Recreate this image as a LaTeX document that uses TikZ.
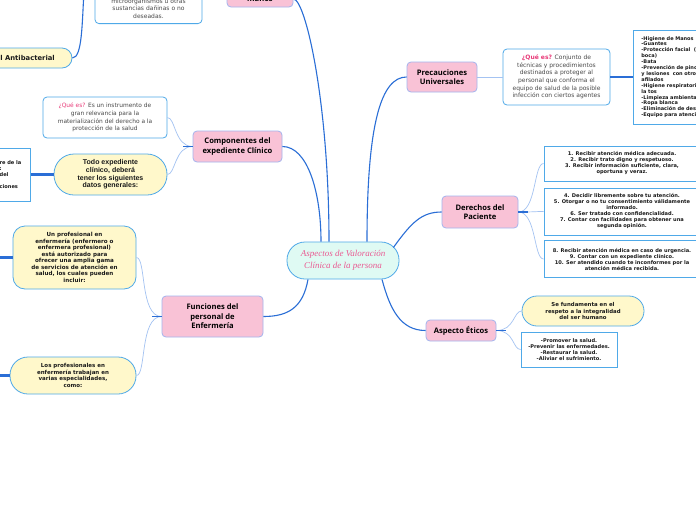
\documentclass[tikz,border=0pt]{standalone}
\usepackage{fontspec}
\setmainfont{DejaVu Sans}
\newfontfamily\brfont{Open Sans}
\newfontfamily\titfont{Liberation Serif}
\newfontfamily\arfont{Liberation Sans}
\usetikzlibrary{calc}
\definecolor{pinkfill}{HTML}{F9C2D6}
\definecolor{pinkline}{HTML}{A3B4EE}
\definecolor{yelfill}{HTML}{FFF8CB}
\definecolor{boxline}{HTML}{4FA9E8}
\definecolor{mintfill}{HTML}{DFFAF3}
\definecolor{mainblue}{HTML}{2A6ED6}
\definecolor{leafblue}{HTML}{A4C3F2}
\definecolor{qpink}{HTML}{E83A78}
\definecolor{titpink}{HTML}{EA5A92}
\definecolor{leafgray}{HTML}{4A4A4A}
\definecolor{darktext}{HTML}{1A1A1A}
\begin{document}
\begin{tikzpicture}[x=1pt,y=-1pt,
  branch/.style={draw=pinkline,fill=pinkfill,line width=0.8pt,rounded corners=4pt,inner sep=0pt,align=center,font=\brfont\bfseries\fontsize{7.6}{9.5}\selectfont,text=black},
  leafbox/.style={draw=boxline,fill=white,line width=0.8pt,rounded corners=4pt,inner sep=0pt,align=center,text=leafgray,font=\fontsize{6}{7.6}\selectfont},
  yellowbox/.style={draw=boxline,fill=yelfill,line width=0.8pt,inner sep=0pt,align=center,text=darktext,font=\bfseries\fontsize{5.6}{6.5}\selectfont},
  listbox/.style={draw=boxline,fill=white,line width=0.8pt,inner sep=0pt,align=center,text=darktext,font=\bfseries\fontsize{5.1}{6}\selectfont},
  mainlink/.style={draw=mainblue,line width=1.1pt},
  leaflink/.style={draw=leafblue,line width=0.7pt},
  thicklink/.style={draw=mainblue,line width=2.2pt}]
\fill[white] (0,0) rectangle (696,520);
\useasboundingbox (0,0) rectangle (696,520);

\node[draw=boxline,fill=mintfill,line width=0.8pt,rounded corners=18pt,minimum width=112pt,minimum height=37pt,inner sep=0pt,align=center,text=titpink,font=\titfont\itshape\fontsize{9}{12}\selectfont] (c) at (343,260.5) {Aspectos de Valoración\\Clínica de la persona};

\node[branch,minimum width=66pt,minimum height=16pt] (m) at (260,-1) {manos};
\node[branch,minimum width=70pt,minimum height=30pt] (pr) at (442,77) {Precauciones\\Universales};
\node[branch,minimum width=76pt,minimum height=32pt] (de) at (480,212) {Derechos del\\Paciente};
\node[branch,minimum width=70pt,minimum height=21pt] (et) at (461,330.5) {Aspecto Éticos};
\node[branch,minimum width=101pt,minimum height=41pt] (fu) at (212.5,316.5) {Funciones del\\personal de\\Enfermería};
\node[branch,minimum width=89pt,minimum height=31pt] (co) at (237.5,146.5) {Componentes del\\expediente Clínico};

\node[leafbox,anchor=south,minimum width=107pt,inner ysep=5pt] (tl) at (148.5,24) {microorganismos u otras\\sustancias dañinas o no\\deseadas.};
\node[yellowbox,rounded corners=10pt,minimum width=99pt,minimum height=20pt,font=\bfseries\fontsize{6.8}{8}\selectfont] (g) at (22.5,58) {Gel Antibacterial};
\coordinate (gp) at (84,-8);

\node[leafbox,minimum width=107pt,minimum height=56pt] (pq) at (556.5,77) {\textcolor{qpink}{\bfseries ¿Qué es?} Conjunto de\\técnicas y procedimientos\\destinados a proteger al\\personal que conforma el\\equipo de salud de la posible\\infección con ciertos agentes};
\node[listbox,anchor=west,align=left,text width=120pt,inner xsep=8pt,minimum height=94pt,font=\bfseries\fontsize{5}{5.9}\selectfont] (fr) at (633,77) {-Higiene de Manos\\-Guantes\\-Protección facial~ (ojos, nariz y\\boca)\\-Bata\\-Prevención de pinchazos\\y lesiones~ con otros instrumentos\\afilados\\-Higiene respiratoria y etiqueta de\\la tos\\-Limpieza ambiental\\-Ropa blanca\\-Eliminación de desechos\\-Equipo para atención del paciente};

\node[listbox,minimum width=156pt,minimum height=35pt] (d1) at (622,163.5) {1. Recibir atención médica adecuada.\\2. Recibir trato digno y respetuoso.\\3. Recibir información suficiente, clara,\\oportuna y veraz.};
\node[listbox,minimum width=156pt,minimum height=47pt] (d2) at (622,211.5) {4. Decidir libremente sobre tu atención.\\5. Otorgar o no tu consentimiento válidamente\\informado.\\6. Ser tratado con confidencialidad.\\7. Contar con facilidades para obtener una\\segunda opinión.};
\node[listbox,minimum width=156pt,minimum height=37pt] (d3) at (622,259) {8. Recibir atención médica en caso de urgencia.\\9. Contar con un expediente clínico.\\10. Ser atendido cuando te inconformes por la\\atención médica recibida.};

\node[yellowbox,rounded corners=15pt,minimum width=122pt,minimum height=30pt,font=\bfseries\fontsize{5.4}{6.6}\selectfont] (sf) at (583,311) {Se fundamenta en el\\respeto a la integralidad\\del ser humano};
\node[listbox,minimum width=96pt,minimum height=35pt] (pm) at (569,349.5) {-Promover la salud.\\-Prevenir las enfermedades.\\-Restaurar la salud.\\-Aliviar el sufrimiento.};

\node[leafbox,minimum width=124pt,minimum height=41pt,font=\fontsize{5.9}{7.8}\selectfont] (cq) at (105,117.5) {\textcolor{qpink}{¿Qué es?} Es un instrumento de\\gran relevancia para la\\materialización del derecho a la\\protección de la salud};
\node[yellowbox,rounded corners=20pt,minimum width=113pt,minimum height=41pt,font=\arfont\bfseries\fontsize{7}{7.7}\selectfont] (ex) at (110.5,174.5) {Todo expediente\\clínico, deberá\\tener los siguientes\\datos generales:};
\node[listbox,anchor=east,align=left,text width=30pt,inner xsep=1pt,minimum height=53pt] (lb) at (31,174.5) {re de la\\:\\del\\[6pt]ciones};

\node[yellowbox,rounded corners=12pt,minimum width=123pt,minimum height=63pt] (un) at (74.5,257.5) {Un profesional en\\enfermería (enfermero o\\enfermera profesional)\\está autorizado para\\ofrecer una amplia gama\\de servicios de atención en\\salud, los cuales pueden\\incluir:};
\node[yellowbox,rounded corners=18pt,minimum width=126pt,minimum height=37pt,font=\bfseries\fontsize{5.5}{6.6}\selectfont] (lp) at (73,375.5) {Los profesionales en\\enfermería trabajan en\\varias especialidades,\\como:};
\coordinate (unp) at (-6,257.5);
\coordinate (lpp) at (-6,375.5);

\draw[mainlink] ($(c.north)+(-14,0)$) .. controls +(0,-140) and +(12,0) .. (m.east);
\draw[mainlink] ($(c.north)+(-22,0)$) .. controls +(0,-50) and +(25,0) .. (co.east);
\draw[mainlink] ($(c.north)+(24,0)$) .. controls +(0,-120) and +(-25,0) .. (pr.west);
\draw[mainlink] ($(c.east)+(-6,-13)$) .. controls +(18,-25) and +(-20,0) .. (de.west);
\draw[mainlink] ($(c.south)+(39,0)$) .. controls +(8,30) and +(-25,0) .. (et.west);
\draw[mainlink] ($(c.south)+(-35,0)$) .. controls +(-5,28) and +(25,0) .. (fu.east);
\draw[mainlink] (g.east) .. controls +(10,0) and +(-2,30) .. (gp);

\draw[leaflink] (pr.east) -- (pq.west);
\draw[thicklink] (pq.east) -- (fr.west);
\foreach \n in {d1,d2,d3} \draw[leaflink] (de.east) .. controls +(18,0) and +(-10,0) .. (\n.west);
\draw[mainlink] (de.east) -- +(10,0);
\foreach \n in {sf,pm} \draw[leaflink] (et.east) .. controls +(18,0) and +(-8,0) .. (\n.west);
\draw[mainlink] (et.east) -- +(10,0);
\foreach \n in {cq,ex} \draw[leaflink] (co.west) .. controls +(-18,0) and +(8,0) .. (\n.east);
\draw[mainlink] (co.west) -- +(-10,0);
\foreach \n in {un,lp} \draw[leaflink] (fu.west) .. controls +(-22,0) and +(10,0) .. (\n.east);
\draw[mainlink] (fu.west) -- +(-10,0);

\draw[thicklink] (ex.west) -- (lb.east);
\draw[thicklink] (un.west) -- (unp);
\draw[thicklink] (lp.west) -- (lpp);
\end{tikzpicture}
\end{document}
